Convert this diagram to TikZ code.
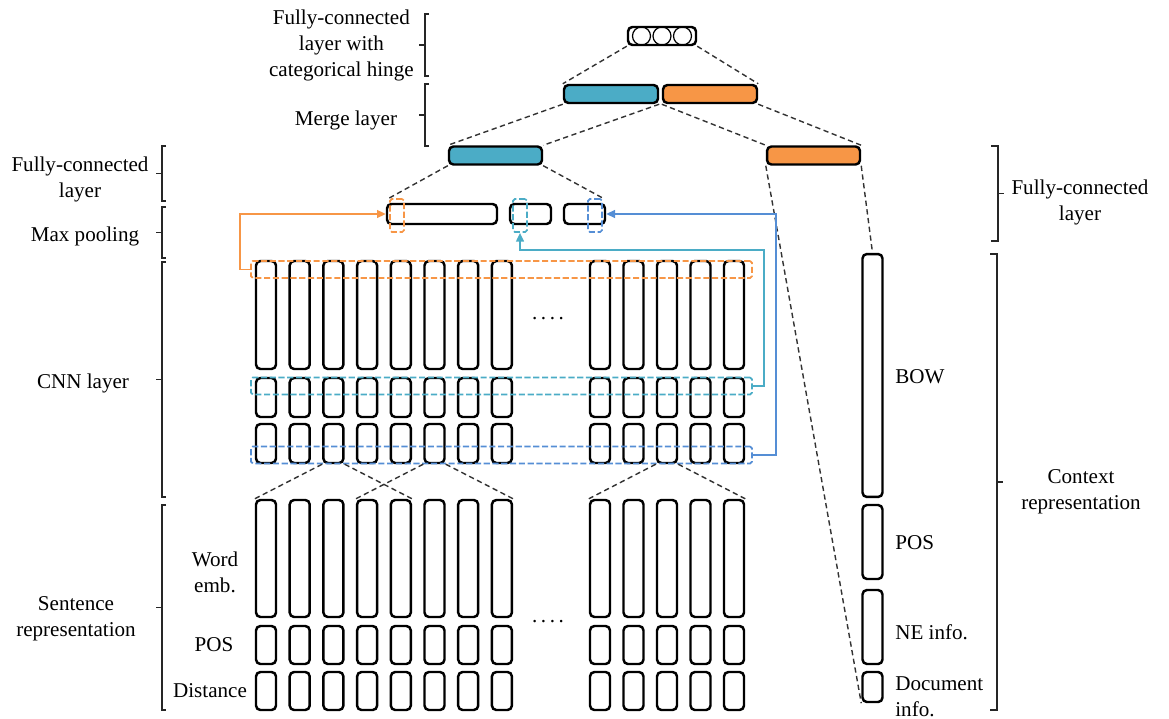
\documentclass[tikz,border=0pt]{standalone}
\usepackage{fontspec}
\setmainfont{Liberation Serif}
\usepackage{tikz}
\usetikzlibrary{math,arrows.meta}
\definecolor{LayerBlue}{RGB}{75,172,198}
\definecolor{LayerOrange}{RGB}{247,150,70}
\definecolor{PoolBlue}{RGB}{85,142,213}
\tikzset{%
  vec/.style={draw, line width=1.4pt, rounded corners=2.5pt, inner sep=0pt, minimum width=0.4cm},
  hl/.style={draw, dash pattern=on 3.5pt off 1.5pt, line width=1pt, rounded corners=1pt, inner sep=0pt},
  link/.style={dash pattern=on 3pt off 2pt, line width=0.8pt, color=black!80},
  bracket/.style={line width=0.7pt, color=black!85},
  lbl/.style={font=\fontsize{12}{14.8}\selectfont, align=center, inner sep=0pt},
  route/.style={line width=0.9pt, -{Triangle[length=5pt,width=4.5pt]}}
}
\newcommand*{\Lbrk}[3]{% left bracket: x, top, bottom
  \draw[bracket] (#1+4,#2) -- (#1,#2) -- (#1,#3) -- (#1+4,#3)
    (#1,{(#2+#3)/2}) -- ++(-6,0);}
\newcommand*{\Rbrk}[3]{% right bracket: x, top, bottom
  \draw[bracket] (#1-7,#2) -- (#1,#2) -- (#1,#3) -- (#1-7,#3)
    (#1,{(#2+#3)/2}) -- ++(6,0);}

\begin{document}
\begin{tikzpicture}[x=0.02cm,y=-0.02cm]
    \useasboundingbox (0,0) rectangle (1169,719);
    % output and merge
    \node[vec, minimum width=1.36cm, minimum height=0.36cm] (out) at (662,36) {};
    \foreach \cx in {641.5,662,682.5} {
      \draw[line width=0.7pt] (\cx,36) circle (0.18cm);
    }
    \node[vec, fill=LayerBlue, minimum width=1.88cm, minimum height=0.36cm] (mb) at (611,94) {};
    \node[vec, fill=LayerOrange, minimum width=1.88cm, minimum height=0.36cm] (mo) at (710,94) {};
    \node[vec, fill=LayerBlue, minimum width=1.86cm, minimum height=0.36cm] (fb) at (495.5,155.5) {};
    \node[vec, fill=LayerOrange, minimum width=1.86cm, minimum height=0.36cm] (fo) at (813.5,155.5) {};
    % max pooling
    \node[vec, minimum width=2.2cm, minimum height=0.4cm] (p1) at (442,214) {};
    \node[vec, minimum width=0.82cm, minimum height=0.4cm] (p2) at (530.5,214) {};
    \node[vec, minimum width=0.82cm, minimum height=0.4cm] (p3) at (584.5,214) {};
    \node[hl, LayerOrange, minimum width=0.28cm, minimum height=0.66cm] (qo) at (397,215.5) {};
    \node[hl, LayerBlue, minimum width=0.28cm, minimum height=0.66cm] (qc) at (520,215.5) {};
    \node[hl, PoolBlue, minimum width=0.28cm, minimum height=0.66cm] (qb) at (595,215.5) {};
    % CNN and sentence columns
    \foreach \n/\cx in {0/266,1/299.7,2/333.4,3/367.1,4/400.8,5/434.5,6/468.2,7/501.9,
                        8/600,9/633.5,10/667,11/700.5,12/734} {
      \node[vec, minimum height=2.16cm] (t\n) at (\cx,315) {};
      \node[vec, minimum height=0.78cm] (m\n) at (\cx,397.5) {};
      \node[vec, minimum height=0.78cm] (b\n) at (\cx,443.5) {};
      \node[vec, minimum height=2.34cm] (w\n) at (\cx,558.5) {};
      \node[vec, minimum height=0.76cm] (s\n) at (\cx,645) {};
      \node[vec, minimum height=0.76cm] (d\n) at (\cx,691) {};
    }
    \node[lbl] (dt) at (548,319) {.\,.\,.\,.};
    \node[lbl] (ds) at (548,622) {.\,.\,.\,.};
    \node[hl, LayerOrange, minimum width=10.02cm, minimum height=0.34cm] (ho) at (501.5,269.5) {};
    \node[hl, LayerBlue, minimum width=10.02cm, minimum height=0.34cm] (hc) at (501.5,386) {};
    \node[hl, PoolBlue, minimum width=10.02cm, minimum height=0.34cm] (hb) at (501.5,455) {};
    % context vector
    \node[vec, minimum height=4.86cm] (bow) at (872.5,375.5) {};
    \node[vec, minimum height=1.48cm] (cpos) at (872.5,542) {};
    \node[vec, minimum height=1.48cm] (ne) at (872.5,627) {};
    \node[vec, minimum height=0.6cm] (doc) at (872.5,687) {};
    % dashed links
    \draw[link] (out.south west) -- (mb.north west) (out.south east) -- (mo.north east);
    \draw[link] (mb.south west) -- (fb.north west) (mb.south east) -- (fb.north east);
    \draw[link] (mo.south west) -- (fo.north west) (mo.south east) -- (fo.north east);
    \draw[link] (fb.south west) -- (qo.north west) (fb.south east) -- (qb.north east);
    \draw[link] (fo.south west) -- (doc.south west) (fo.south east) -- (bow.north);
    \draw[link] (b2.south west) -- (w0.north west) (b2.south east) -- (w4.north east);
    \draw[link] (b5.south west) -- (w3.north west) (b5.south east) -- (w7.north east);
    \draw[link] (b10.south west) -- (w8.north west) (b10.south east) -- (w12.north east);
    % pooling routes
    \coordinate (cbend) at (520,250);
    \draw[route, LayerOrange] (ho.west) -- ++(-10,0) |- (p1.west);
    \draw[route, LayerBlue] (hc.east) -- ++(11,0) |- (cbend) -- (qc.south);
    \draw[route, PoolBlue] (hb.east) -- ++(23,0) |- (p3.east);
    % brackets
    \Lbrk{425}{14}{76}
    \Lbrk{425}{84}{146}
    \Lbrk{162}{146}{201}
    \Lbrk{162}{207}{258}
    \Lbrk{162}{262}{497}
    \Lbrk{162}{505}{710}
    \Rbrk{998}{146}{241}
    \Rbrk{997}{254}{710}
    % labels
    \node[lbl, anchor=east] (ltop) at (414,45) {Fully-connected\\layer with\\categorical hinge};
    \node[lbl] (lmerge) at (346,120) {Merge layer};
    \node[lbl] (lfc) at (80,179) {Fully-connected\\layer};
    \node[lbl] (lpool) at (85,236) {Max pooling};
    \node[lbl] (lcnn) at (83,383) {CNN layer};
    \node[lbl] (lsent) at (76,619) {Sentence\\representation};
    \node[lbl] (lword) at (215,572) {Word\\emb.};
    \node[lbl] (lpos) at (214,645) {POS};
    \node[lbl] (ldist) at (210,691) {Distance};
    \node[lbl, anchor=west] (lbow) at (895,377) {BOW};
    \node[lbl, anchor=west] (lcpos) at (895,543) {POS};
    \node[lbl, anchor=west] (lne) at (895,632) {NE info.};
    \node[lbl, anchor=west, align=left] (ldoc) at (895,697) {Document\\info.};
    \node[lbl] (lctx) at (1081,492) {Context\\representation};
    \node[lbl] (lfcr) at (1080,202) {Fully-connected\\layer};
  \end{tikzpicture}
\end{document}
